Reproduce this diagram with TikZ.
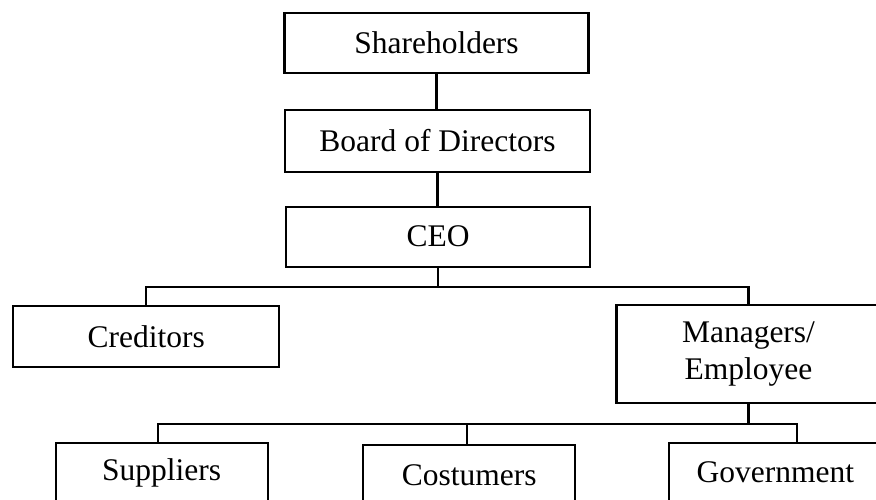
\documentclass[tikz,border=0pt]{standalone}
\usepackage{fontspec}
\setmainfont{Liberation Serif}
\usetikzlibrary{calc}
\begin{document}
\begin{tikzpicture}[x=1pt,y=-1pt,
  box/.style={draw, line width=2.2pt, inner sep=0pt, align=center,
    font=\fontsize{31.5}{36.5}\selectfont},
  conn/.style={draw, line width=2.2pt}]
\useasboundingbox (0,0) rectangle (876,499);
\clip (0,0) rectangle (876,499);
\node[box, minimum width=304, minimum height=60] (sh) at (436.5,42.7) {Shareholders};
\node[box, minimum width=305, minimum height=61.7] (bd) at (437.5,140.8) {Board of Directors};
\node[box, minimum width=304, minimum height=60] (ceo) at (438,236.7) {CEO};
\node[box, minimum width=265.7, minimum height=60.7] (cred) at (146.2,336.3) {Creditors};
\node[box, minimum width=264, minimum height=98.3] (mgr) at (748.5,354.2) {Managers/\\Employee};
\node[box, minimum width=212, minimum height=60] (sup) at (161.7,472.7) {Suppliers};
\node[box, minimum width=212, minimum height=60] (cos) at (469.3,475) {Costumers};
\node[box, minimum width=212, minimum height=60] (gov) at (775.3,472.7) {Government};
\coordinate (j1) at (438,287.3);
\coordinate (j2) at (748.5,424);
\draw[conn] (sh.south) -- (sh.south |- bd.north);
\draw[conn] (bd.south) -- (bd.south |- ceo.north);
\draw[conn] (ceo.south) -- (j1);
\draw[conn] (cred.north) |- (j1) -| (mgr.north);
\draw[conn] (mgr.south) -- (j2);
\draw[conn] ($(sup.north)+(-3.4,0)$) |- (j2) -| ($(gov.north)+(21.7,0)$);
\draw[conn] ($(cos.north)+(-2.6,0)$) |- (j2);
\end{tikzpicture}
\end{document}
